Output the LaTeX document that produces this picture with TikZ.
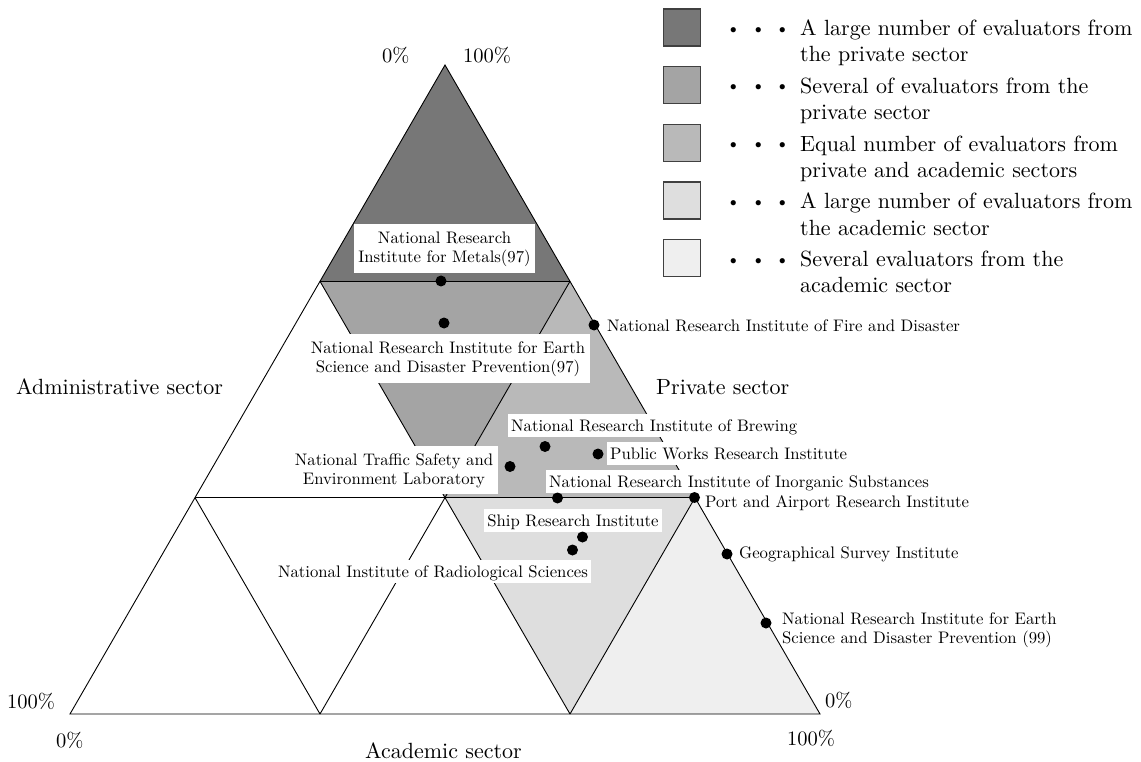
\documentclass[tikz,border=0pt]{standalone}
\usepackage{fontspec}
\setmainfont{lmroman10-regular.otf}
\newfontfamily\cjkfont{Noto Sans CJK JP}
\definecolor{cA}{HTML}{777777}
\definecolor{cB}{HTML}{A4A4A4}
\definecolor{cC}{HTML}{B9B9B9}
\definecolor{cD}{HTML}{DEDEDE}
\definecolor{cE}{HTML}{EFEFEF}
\begin{document}
\begin{tikzpicture}[x=1pt,y=-1pt,
  edge/.style={draw=black,line width=0.9pt,line join=miter},
  lbl/.style={font=\fontsize{16.7}{19}\selectfont,inner sep=0pt},
  wlbl/.style={lbl,fill=white,inner xsep=3pt,inner ysep=3pt,text height=14pt,text depth=3pt},
  wbox/.style={lbl,fill=white,inner xsep=4.5pt,inner ysep=7pt,align=center},
  big/.style={font=\fontsize{22}{26.3}\selectfont,inner sep=0pt},
  pct/.style={font=\fontsize{20.5}{24}\selectfont,inner sep=0pt},
  spot/.style={circle,fill=black,inner sep=0pt,minimum size=11pt},
  legbox/.style={draw=black!75,line width=1.2pt,minimum width=37pt,minimum height=37pt,inner sep=0pt},
  legdots/.style={font=\cjkfont\fontsize{24.5}{24.5}\selectfont,inner sep=0pt,anchor=base},
  legtxt/.style={big,align=left,anchor=base west}
]
\useasboundingbox[fill=white] (0,0) rectangle (1141,762);
% vertices
\coordinate (A) at (445,65);
\coordinate (B1) at (320,281.3);
\coordinate (B2) at (570,281.3);
\coordinate (C1) at (195,497.7);
\coordinate (C2) at (445,497.7);
\coordinate (C3) at (695,497.7);
\coordinate (D1) at (70,714);
\coordinate (D2) at (320,714);
\coordinate (D3) at (570,714);
\coordinate (D4) at (820,714);
% fills
\fill[cA] (A) -- (B1) -- (B2) -- cycle;
\fill[cB] (B1) -- (B2) -- (C2) -- cycle;
\fill[cC] (B2) -- (C2) -- (C3) -- cycle;
\fill[cD] (C2) -- (C3) -- (D3) -- cycle;
\fill[cE] (C3) -- (D3) -- (D4) -- cycle;
% lines
\draw[edge] (A) -- (D1) -- (D4) -- cycle;
\draw[edge] (B1) -- (B2);
\draw[edge] (C1) -- (C3);
\draw[edge] (B2) -- (D2);
\draw[edge] (C3) -- (D3);
\draw[edge] (B1) -- (D3);
\draw[edge] (C1) -- (D2);
% labels (multi-line nodes: base = last line)
\node[wbox,anchor=base] (metals) at (444.5,262) {National Research\\Institute for Metals(97)};
\node[wbox,anchor=base] (earth97) at (448,372) {National Research Institute for Earth\\Science and Disaster Prevention(97)};
\node[wbox,anchor=base] (traffic) at (394,484) {National Traffic Safety and\\Environment Laboratory};
\node[lbl,anchor=base west] (fire) at (607,331) {National Research Institute of Fire and Disaster};
\node[wlbl,anchor=base west] (brew) at (508,431) {National Research Institute of Brewing};
\node[wlbl,anchor=base west] (pwri) at (607,459) {Public Works Research Institute};
\node[wlbl,anchor=base west] (inorg) at (546,487) {National Research Institute of Inorganic Substances};
\node[lbl,anchor=base west] (port) at (705,507) {Port and Airport Research Institute};
\node[wlbl,anchor=base] (ship) at (573,526) {Ship Research Institute};
\node[wlbl,anchor=base] (radio) at (433,577) {National Institute of Radiological Sciences};
\node[lbl,anchor=base west] (geo) at (739,558) {Geographical Survey Institute};
\node[lbl,anchor=base west,align=left] (earth99) at (782,643) {National Research Institute for Earth\\Science and Disaster Prevention (99)};
% dots
\node[spot] (dmetals) at (441,281) {};
\node[spot] (dearth97) at (444,323) {};
\node[spot] (dfire) at (594,325) {};
\node[spot] (dbrew) at (545,446.5) {};
\node[spot] (dpwri) at (598,454) {};
\node[spot] (dtraffic) at (510,466.5) {};
\node[spot] (dinorg) at (557.5,498) {};
\node[spot] (dport) at (694.5,497.5) {};
\node[spot] (dship) at (582.5,537) {};
\node[spot] (dradio) at (572.5,550) {};
\node[spot] (dgeo) at (727,554) {};
\node[spot] (dearth99) at (766,623) {};
% axis labels
\node[big,anchor=base west] (admin) at (16,394) {Administrative sector};
\node[big,anchor=base west] (priv) at (656,394) {Private sector};
\node[big,anchor=base west] (acad) at (365,758) {Academic sector};
\node[pct,anchor=base west] (p1) at (382,63) {0\%};
\node[pct,anchor=base west] (p2) at (463,63) {100\%};
\node[pct,anchor=base west] (p3) at (7,708) {100\%};
\node[pct,anchor=base west] (p4) at (56,747) {0\%};
\node[pct,anchor=base west] (p5) at (825,707) {0\%};
\node[pct,anchor=base west] (p6) at (787,745) {100\%};
% legend
\node[legbox,fill=cA] (k1) at (682,27.5) {};
\node[legbox,fill=cB] (k2) at (682,85.2) {};
\node[legbox,fill=cC] (k3) at (682,142.9) {};
\node[legbox,fill=cD] (k4) at (682,200.6) {};
\node[legbox,fill=cE] (k5) at (682,258.3) {};
\node[legdots] (m1) at (758.5,39.3) {・・・};
\node[legdots] (m2) at (758.5,97.0) {・・・};
\node[legdots] (m3) at (758.5,154.7) {・・・};
\node[legdots] (m4) at (758.5,212.4) {・・・};
\node[legdots] (m5) at (758.5,270.1) {・・・};
\node[legtxt] (t1) at (800,62) {A large number of evaluators from\\the private sector};
\node[legtxt] (t2) at (800,119.7) {Several of evaluators from the\\private sector};
\node[legtxt] (t3) at (800,177.4) {Equal number of evaluators from\\private and academic sectors};
\node[legtxt] (t4) at (800,235.1) {A large number of evaluators from\\the academic sector};
\node[legtxt] (t5) at (800,292.8) {Several evaluators from the\\academic sector};
\end{tikzpicture}
\end{document}
